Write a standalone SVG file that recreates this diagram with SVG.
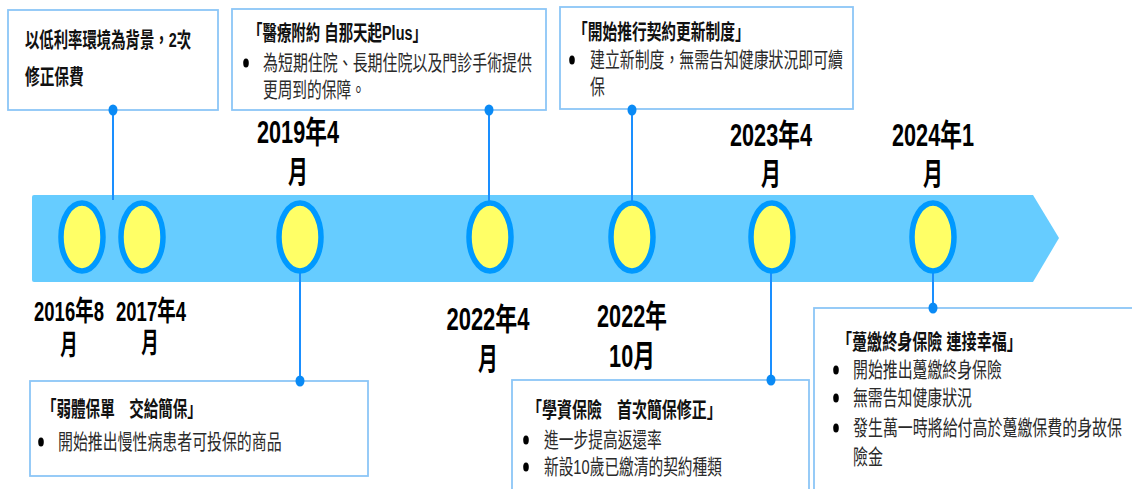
<svg xmlns="http://www.w3.org/2000/svg" width="1132" height="489" viewBox="0 0 1132 489">
<style>
text{font-family:"Liberation Sans","Noto Sans CJK TC",sans-serif;}
.box{fill:#fff;stroke:#8cc6f7;stroke-width:1.8;}
.ttl{font-size:21px;font-weight:bold;fill:#111;}
.bd{font-size:21px;fill:#2a2a2a;}
.dt{font-size:31px;font-weight:bold;fill:#000;text-anchor:middle;}
.dts{font-size:28px;font-weight:bold;fill:#000;text-anchor:middle;}
.bul{fill:#000;}
.ms{fill:#ffff66;stroke:#0099ff;stroke-width:5.5;}
.ln{stroke:#1a8fff;stroke-width:2;fill:none;}
.dot{fill:#0a8af5;}
</style>
<g id="band">
<path d="M34,195 L1033,195 L1059,238 L1033,282 L34,282 Q32,282 32,280 L32,197 Q32,195 34,195 Z" fill="#66ccff"/>
</g>
<g id="connectors">
<line class="ln" x1="113" y1="110" x2="113" y2="200"/>
<line class="ln" x1="489" y1="110" x2="489" y2="204"/>
<line class="ln" x1="632" y1="110" x2="632" y2="204"/>
<line class="ln" x1="300" y1="271" x2="300" y2="381"/>
<line class="ln" x1="771" y1="271" x2="771" y2="380"/>
<line class="ln" x1="933" y1="271" x2="933" y2="308"/>
</g>
<g id="milestones">
<ellipse class="ms" cx="82" cy="237" rx="21" ry="34"/>
<ellipse class="ms" cx="142" cy="237" rx="21" ry="34"/>
<ellipse class="ms" cx="300" cy="237" rx="21" ry="34"/>
<ellipse class="ms" cx="490" cy="237" rx="21" ry="34"/>
<ellipse class="ms" cx="632" cy="237" rx="21" ry="34"/>
<ellipse class="ms" cx="772" cy="237" rx="21" ry="34"/>
<ellipse class="ms" cx="933" cy="237" rx="21" ry="34"/>
</g>
<g id="dates">
<text class="dts" transform="translate(69,321) scale(0.66,1)">2016年8</text>
<text class="dts" transform="translate(69,355) scale(0.62,1)">月</text>
<text class="dts" transform="translate(151,321) scale(0.66,1)">2017年4</text>
<text class="dts" transform="translate(150,353) scale(0.62,1)">月</text>
<text class="dt" transform="translate(298,143) scale(0.70,1)">2019年4</text>
<text class="dt" transform="translate(298,183) scale(0.64,1)">月</text>
<text class="dt" transform="translate(488,330) scale(0.71,1)">2022年4</text>
<text class="dt" transform="translate(488,370) scale(0.64,1)">月</text>
<text class="dt" transform="translate(632,327) scale(0.70,1)">2022年</text>
<text class="dt" transform="translate(632,367) scale(0.70,1)">10月</text>
<text class="dt" transform="translate(771,146) scale(0.70,1)">2023年4</text>
<text class="dt" transform="translate(771,185) scale(0.64,1)">月</text>
<text class="dt" transform="translate(933,146) scale(0.70,1)">2024年1</text>
<text class="dt" transform="translate(933,185) scale(0.64,1)">月</text>
</g>
<g id="box1">
<rect class="box" x="8" y="10" width="210" height="100"/>
<text class="ttl" transform="translate(25,47) scale(0.685,1)">以低利率環境為背景，2次</text>
<text class="ttl" transform="translate(25,84) scale(0.7,1)">修正保費</text>
<ellipse class="dot" cx="113" cy="110" rx="4.5" ry="5.5"/>
</g>
<g id="box2">
<rect class="box" x="232" y="9" width="314" height="101"/>
<text class="ttl" transform="translate(248,40) scale(0.688,1)">「醫療附約 自那天起Plus」</text>
<ellipse class="bul" cx="246" cy="63" rx="2.8" ry="4.5"/>
<text class="bd" transform="translate(263,70) scale(0.712,1)">為短期住院、長期住院以及門診手術提供</text>
<text class="bd" transform="translate(263,97) scale(0.7,1)">更周到的保障。</text>
<ellipse class="dot" cx="489" cy="110" rx="4.5" ry="5.5"/>
</g>
<g id="box3">
<rect class="box" x="560" y="7" width="293" height="102"/>
<text class="ttl" transform="translate(573,39) scale(0.702,1)">「開始推行契約更新制度」</text>
<ellipse class="bul" cx="572" cy="60" rx="2.8" ry="4.5"/>
<text class="bd" transform="translate(590,67) scale(0.709,1)">建立新制度，無需告知健康狀況即可續</text>
<text class="bd" transform="translate(590,94) scale(0.71,1)">保</text>
<ellipse class="dot" cx="632" cy="110" rx="4.5" ry="5.5"/>
</g>
<g id="box4">
<rect class="box" x="30" y="381" width="338" height="95"/>
<text class="ttl" transform="translate(42,416) scale(0.693,1)">「弱體保單　交給簡保」</text>
<ellipse class="bul" cx="41" cy="442" rx="2.8" ry="4.5"/>
<text class="bd" transform="translate(58,449) scale(0.711,1)">開始推出慢性病患者可投保的商品</text>
<ellipse class="dot" cx="300" cy="381" rx="4.5" ry="5.5"/>
</g>
<g id="box5">
<rect class="box" x="512" y="380" width="297" height="120"/>
<text class="ttl" transform="translate(527,417) scale(0.714,1)">「學資保險　首次簡保修正」</text>
<ellipse class="bul" cx="526" cy="440" rx="2.8" ry="4.5"/>
<text class="bd" transform="translate(544,447) scale(0.702,1)">進一步提高返還率</text>
<ellipse class="bul" cx="526" cy="467" rx="2.8" ry="4.5"/>
<text class="bd" transform="translate(544,474) scale(0.70,1)">新設10歲已繳清的契約種類</text>
<ellipse class="dot" cx="771" cy="380" rx="4.5" ry="5.5"/>
</g>
<g id="box6">
<rect class="box" x="814" y="308" width="330" height="200"/>
<text class="ttl" transform="translate(837,349) scale(0.717,1)">「躉繳終身保險 連接幸福」</text>
<ellipse class="bul" cx="836" cy="370" rx="2.8" ry="4.5"/>
<text class="bd" transform="translate(853,377) scale(0.71,1)">開始推出躉繳終身保險</text>
<ellipse class="bul" cx="836" cy="398" rx="2.8" ry="4.5"/>
<text class="bd" transform="translate(853,405) scale(0.708,1)">無需告知健康狀況</text>
<ellipse class="bul" cx="836" cy="428" rx="2.8" ry="4.5"/>
<text class="bd" transform="translate(853,435) scale(0.712,1)">發生萬一時將給付高於躉繳保費的身故保</text>
<text class="bd" transform="translate(853,464) scale(0.714,1)">險金</text>
<ellipse class="dot" cx="933" cy="308" rx="4.5" ry="5.5"/>
</g>
</svg>
